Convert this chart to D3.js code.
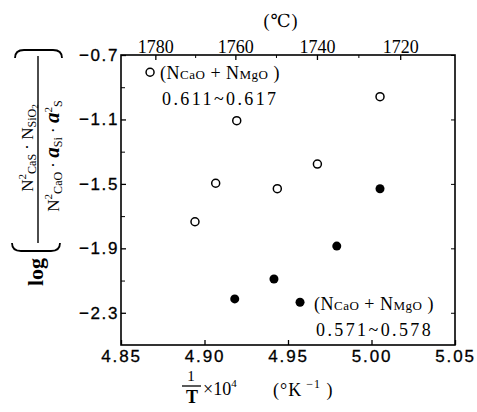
<!DOCTYPE html>
<html><head><meta charset="utf-8">
<script src="https://cdn.jsdelivr.net/npm/d3@7"></script>
<style>
body{margin:0;background:#fff;}
svg{display:block;}
text{fill:#000;}
</style></head>
<body>
<svg id="c" width="477" height="412"></svg>
<script>
// ---- data ----
const openX  = [4.8674, 5.0051, 4.9193, 4.9676, 4.9067, 4.9436, 4.8943];
const openY  = [-0.807, -0.959, -1.108, -1.377, -1.496, -1.530, -1.735];
const filledX = [5.0051, 4.9792, 4.9416, 4.9181, 4.9572];
const filledY = [-1.530, -1.886, -2.090, -2.214, -2.235];
const xTicks = [4.85, 4.90, 4.95, 5.00, 5.05];
const yTicks = [-0.7, -1.1, -1.5, -1.9, -2.3];
const yMinor = [-0.9, -1.3, -1.7, -2.1];
const topTemps = [1780, 1760, 1740, 1720];
const topMinor = [1770, 1750, 1730];
const openLabel = ["0.611~0.617"];
const filledLabel = ["0.571~0.578"];

const svg = d3.select("#c");
const L = 121, R = 455, T = 55, B = 345;
const x = d3.scaleLinear().domain([4.85, 5.05]).range([L, R]);
const y = d3.scaleLinear().domain([-2.5, -0.7]).range([B, T]);

const serif = "Liberation Serif, DejaVu Serif, serif";
const sans = "Liberation Sans, DejaVu Sans, sans-serif";

// frame
svg.append("rect").attr("x", L).attr("y", T).attr("width", R - L).attr("height", B - T)
  .attr("fill", "none").attr("stroke", "#000").attr("stroke-width", 1.6);

// bottom axis
const gb = svg.append("g").attr("transform", `translate(0,${B})`)
  .call(d3.axisBottom(x).tickValues(xTicks).tickFormat(d3.format(".2f")).tickSize(-5).tickPadding(5));
gb.select(".domain").remove();
gb.selectAll("line").attr("stroke-width", 1.3);
gb.selectAll("text").attr("font-family", sans).attr("font-size", 17).attr("letter-spacing", 1.8)
  .attr("stroke", "#000").attr("stroke-width", 0.3);

// left axis
const gl = svg.append("g").attr("transform", `translate(${L},0)`)
  .call(d3.axisLeft(y).tickValues(yTicks).tickFormat(d3.format(".1f")).tickSize(-5).tickPadding(2));
gl.select(".domain").remove();
gl.selectAll("line").attr("stroke-width", 1.3);
gl.selectAll("text").attr("font-family", sans).attr("font-size", 17).attr("letter-spacing", 1.6)
  .attr("stroke", "#000").attr("stroke-width", 0.3);
const glm = svg.append("g").attr("transform", `translate(${L},0)`)
  .call(d3.axisLeft(y).tickValues(yMinor).tickFormat("").tickSize(-4));
glm.select(".domain").remove();

// right ticks
const gr = svg.append("g").attr("transform", `translate(${R},0)`)
  .call(d3.axisRight(y).tickValues(yTicks).tickFormat("").tickSize(-4));
gr.select(".domain").remove();

// top axis (temperature, °C -> 1e4/K)
const gt = svg.append("g").attr("transform", `translate(0,${T})`)
  .call(d3.axisTop(x).tickValues(topTemps.map(t => 1e4 / (t + 273.15)))
    .tickFormat((d, i) => topTemps[i]).tickSize(-5).tickPadding(2));
gt.select(".domain").remove();
gt.selectAll("line").attr("stroke-width", 1.3);
gt.selectAll("text").attr("font-family", serif).attr("font-size", 18);
const gtm = svg.append("g").attr("transform", `translate(0,${T})`)
  .call(d3.axisTop(x).tickValues(topMinor.map(t => 1e4 / (t + 273.15))).tickFormat("").tickSize(-3));
gtm.select(".domain").remove();

svg.append("text").attr("x", 281).attr("y", 27).attr("text-anchor", "middle")
  .attr("font-family", serif).attr("font-size", 18).attr("letter-spacing", 1).text("(℃)");

// points
svg.append("g").selectAll("circle").data(openX).join("circle")
  .attr("cx", d => x(d)).attr("cy", (d, i) => y(openY[i])).attr("r", 4)
  .attr("fill", "#fff").attr("stroke", "#000").attr("stroke-width", 1.5);
svg.append("g").selectAll("circle").data(filledX).join("circle")
  .attr("cx", d => x(d)).attr("cy", (d, i) => y(filledY[i])).attr("r", 4.5)
  .attr("fill", "#000");

// labels next to the legend-like points
function compLabel(px, py, range) {
  const t = svg.append("text").attr("x", px).attr("y", py)
    .attr("font-family", serif).attr("font-size", 18).attr("letter-spacing", 0.5);
  t.append("tspan").text("(N");
  t.append("tspan").attr("font-size", 13).text("CaO");
  t.append("tspan").text(" + N");
  t.append("tspan").attr("font-size", 13).text("MgO");
  t.append("tspan").text(" )");
  svg.append("text").attr("x", px + 2).attr("y", py + 26)
    .attr("font-family", serif).attr("font-size", 18).attr("letter-spacing", 2.4).text(range);
}
compLabel(x(openX[0]) + 10, y(openY[0]) + 7, openLabel[0]);
compLabel(x(filledX[4]) + 14, y(filledY[4]) + 8, filledLabel[0]);

// x title
const xt = svg.append("g").attr("font-family", serif);
xt.append("text").attr("x", 191).attr("y", 381).attr("text-anchor", "middle").attr("font-size", 15).text("1");
xt.append("line").attr("x1", 182).attr("x2", 201).attr("y1", 386).attr("y2", 386).attr("stroke", "#000").attr("stroke-width", 1.3);
xt.append("text").attr("x", 192).attr("y", 403).attr("text-anchor", "middle").attr("font-size", 18).attr("font-weight", "bold").text("T");
const x10 = xt.append("text").attr("x", 203).attr("y", 395).attr("font-size", 18);
x10.append("tspan").text("×10");
x10.append("tspan").attr("font-size", 11).attr("dy", -8).text("4");
const xk = xt.append("text").attr("x", 273).attr("y", 396).attr("font-size", 18).attr("letter-spacing", 1);
xk.append("tspan").text("(°K");
xk.append("tspan").attr("font-size", 12).attr("dy", -8).text(" −1");
xk.append("tspan").attr("dy", 8).text("  )");

// y title
const yl = svg.append("g").attr("font-family", serif);
yl.append("text").attr("transform", "translate(43,272) rotate(-90)").attr("text-anchor", "middle")
  .attr("font-size", 22).attr("font-weight", "bold").text("log");
yl.append("path").attr("d", "M15,58 Q15,50 24,50 L53,50 Q62,50 62,58")
  .attr("fill", "none").attr("stroke", "#000").attr("stroke-width", 1.8);
yl.append("path").attr("d", "M12,243 Q12,251 21,251 L51,251 Q60,251 60,243")
  .attr("fill", "none").attr("stroke", "#000").attr("stroke-width", 1.8);
yl.append("line").attr("x1", 38).attr("x2", 38).attr("y1", 56).attr("y2", 243)
  .attr("stroke", "#000").attr("stroke-width", 1.4);
const num = yl.append("text").attr("transform", "translate(33,148) rotate(-90)").attr("text-anchor", "middle")
  .attr("font-size", 17);
num.append("tspan").text("N");
num.append("tspan").attr("font-size", 11).attr("dy", -7).text("2");
num.append("tspan").attr("font-size", 12).attr("dy", 10).text("CaS");
num.append("tspan").attr("dy", -3).text(" · N");
num.append("tspan").attr("font-size", 12).attr("dy", 3).text("SiO");
num.append("tspan").attr("font-size", 9).attr("dy", 2).text("2");
const den = yl.append("text").attr("transform", "translate(59,156) rotate(-90)").attr("text-anchor", "middle")
  .attr("font-size", 17);
den.append("tspan").text("N");
den.append("tspan").attr("font-size", 11).attr("dy", -7).text("2");
den.append("tspan").attr("font-size", 12).attr("dy", 10).text("CaO");
den.append("tspan").attr("dy", -3).text(" · ");
den.append("tspan").attr("font-style", "italic").attr("font-weight", "bold").attr("font-size", 21).text("a");
den.append("tspan").attr("font-size", 12).attr("dy", 3).text("Si");
den.append("tspan").attr("dy", -3).text(" · ");
den.append("tspan").attr("font-style", "italic").attr("font-weight", "bold").attr("font-size", 21).text("a");
den.append("tspan").attr("font-size", 11).attr("dy", -7).text("2");
den.append("tspan").attr("font-size", 12).attr("dy", 10).text("S");
</script>
</body></html>
